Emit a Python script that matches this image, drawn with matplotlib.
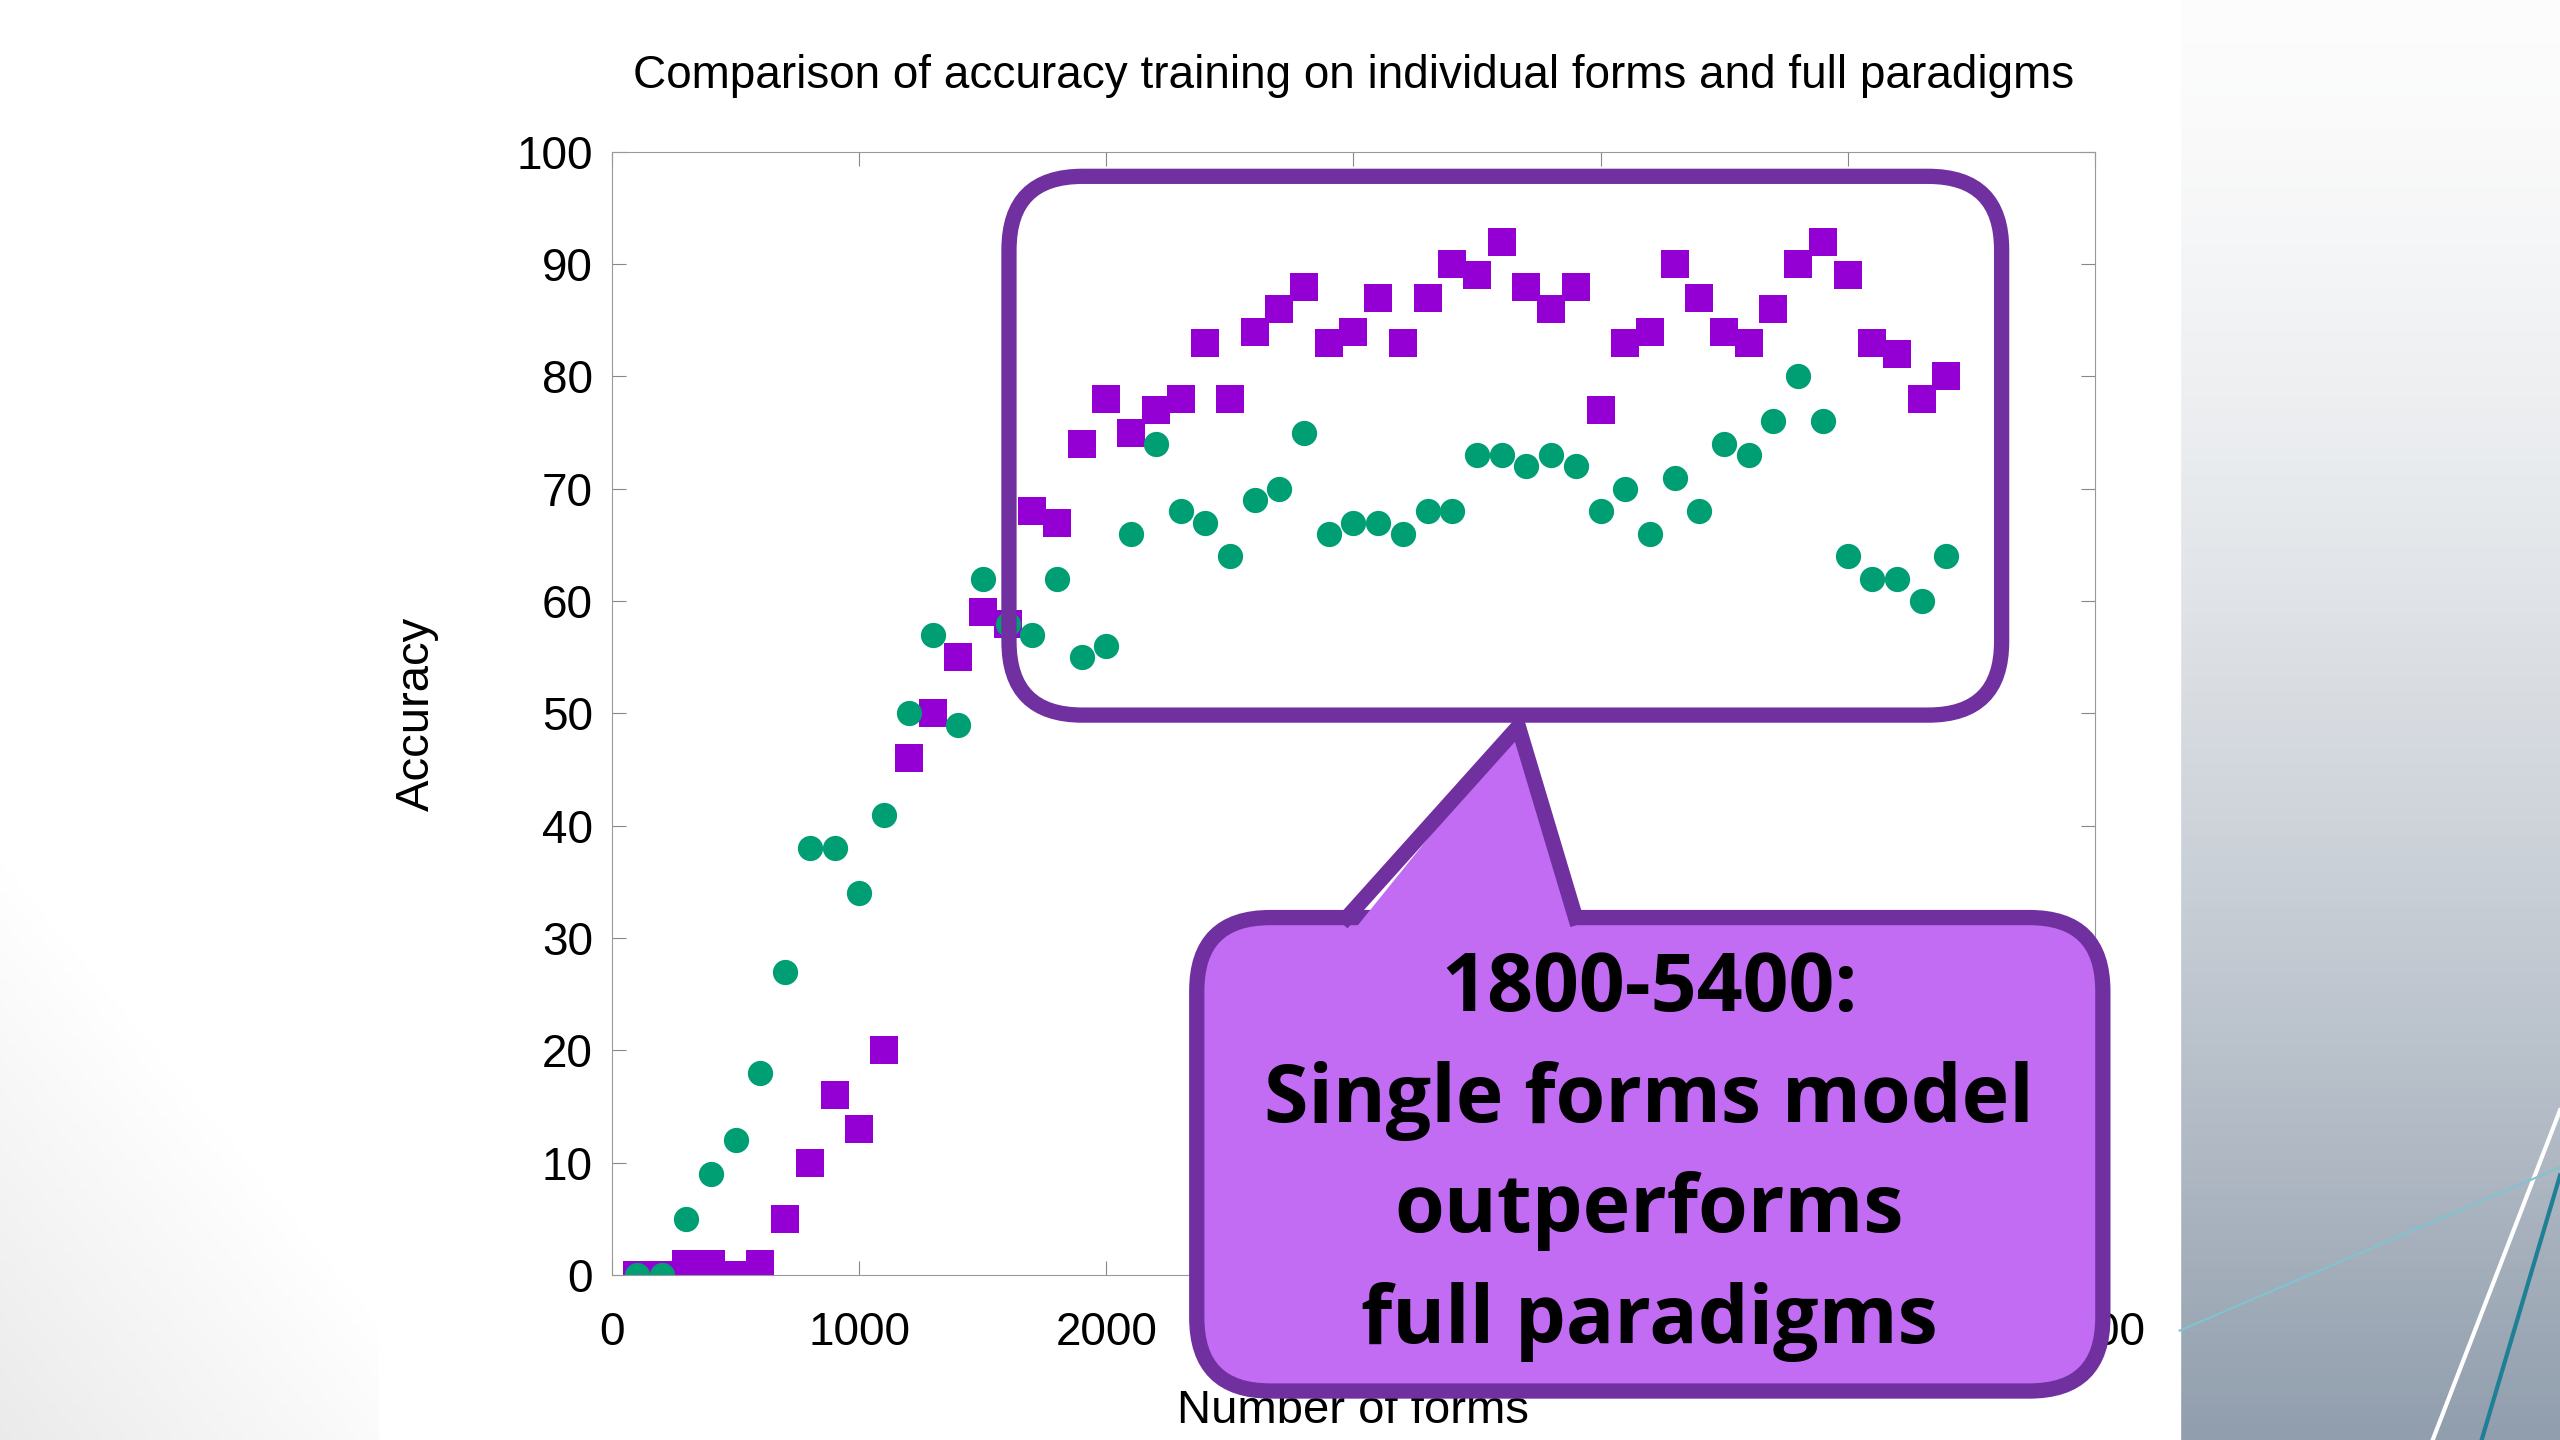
import matplotlib.pyplot as plt
import numpy as np
from matplotlib.patches import FancyBboxPatch, Polygon

plt.rcParams['font.family'] = ['Liberation Sans', 'DejaVu Sans']

# number of forms and accuracy values
forms = list(range(100, 5500, 100))
acc_full = [0, 0, 5, 9, 12, 18, 27, 38, 38, 34, 41, 50, 57, 49, 62, 58, 57, 62, 55, 56,
            66, 74, 68, 67, 64, 69, 70, 75, 66, 67, 67, 66, 68, 68, 73, 73, 72, 73, 72, 68,
            70, 66, 71, 68, 74, 73, 76, 80, 76, 64, 62, 62, 60, 64]
acc_single = [0, 0, 1, 1, 0, 1, 5, 10, 16, 13, 20, 46, 50, 55, 59, 58, 68, 67, 74, 78,
              75, 77, 78, 83, 78, 84, 86, 88, 83, 84, 87, 83, 87, 90, 89, 92, 88, 86, 88, 77,
              83, 84, 90, 87, 84, 83, 86, 90, 92, 89, 83, 82, 78, 80]

W, H = 1568, 882
fig = plt.figure(figsize=(25.6, 14.4), dpi=100)

# background slide
bg = fig.add_axes([0, 0, 1, 1], zorder=0)
bg.set_xlim(0, W); bg.set_ylim(H, 0); bg.axis('off')
g = np.linspace(0, 1, 200)[:, None]
bg.imshow(np.dstack([0.99 - 0.42 * g ** 1.5, 0.99 - 0.37 * g ** 1.5, 0.99 - 0.31 * g ** 1.5]),
          extent=[1335, W, H, 0], aspect='auto')
yy, xx = np.mgrid[0:1:200j, 0:1:100j]
shade = np.clip((yy - 0.6) * 2.5 - xx * 0.8, 0, 1) * 0.08
bg.imshow(np.dstack([1 - shade] * 3), extent=[0, 232, H, 0], aspect='auto')
bg.fill_between([232, 1335], 0, H, color='white')
bg.plot([1490, 1568], [H, 680], color='white', lw=3)
bg.plot([1520, 1568], [H, 720], color='#1f7f95', lw=3)
bg.plot([1335, 1568], [815, 715], color='#7fc4d0', lw=1.5)

# chart
ax = fig.add_axes([375 / W, 1 - 781 / H, 908 / W, 688 / H], zorder=1)
ax.scatter(forms, acc_single, marker='s', s=420, color='#9400d3', linewidths=0)
ax.scatter(forms, acc_full, marker='o', s=330, color='#009e73', linewidths=0)
ax.set_xlim(0, 6000)
ax.set_ylim(0, 100)
ax.set_xticks(range(0, 6001, 1000))
ax.set_yticks(range(0, 101, 10))
ax.tick_params(direction='in', top=True, right=True, labelsize=33, length=10, pad=14, color='#888888')
ax.tick_params(axis='x', pad=26)
for s in ax.spines.values():
    s.set_color('#999999')
ax.set_title('Comparison of accuracy training on individual forms and full paradigms', fontsize=33, pad=46)
ax.set_xlabel('Number of forms', fontsize=34, labelpad=24)
ax.set_ylabel('Accuracy', fontsize=34, labelpad=56)

# callouts
ov = fig.add_axes([0, 0, 1, 1], zorder=2)
ov.set_xlim(0, W); ov.set_ylim(H, 0); ov.axis('off')
edge = '#7030a0'
ov.add_patch(FancyBboxPatch((618, 108), 608, 330, boxstyle='round,pad=0,rounding_size=45',
                            fc='none', ec=edge, lw=11))
ov.add_patch(FancyBboxPatch((733, 562), 555, 290, boxstyle='round,pad=0,rounding_size=45',
                            fc='#c26cf3', ec=edge, lw=11))
ov.add_patch(Polygon([(825, 575), (930, 445), (965, 575)], closed=True, fc='#c26cf3', ec='none'))
ov.plot([825, 930, 965], [562, 445, 562], color=edge, lw=11, solid_joinstyle='miter')
ov.text(1010, 708, '1800-5400:\nSingle forms model\noutperforms\nfull paradigms',
        ha='center', va='center', fontsize=58, fontweight='bold', linespacing=1.5,
        family=['Open Sans', 'DejaVu Sans'])

fig.savefig('out.png', dpi=100)
